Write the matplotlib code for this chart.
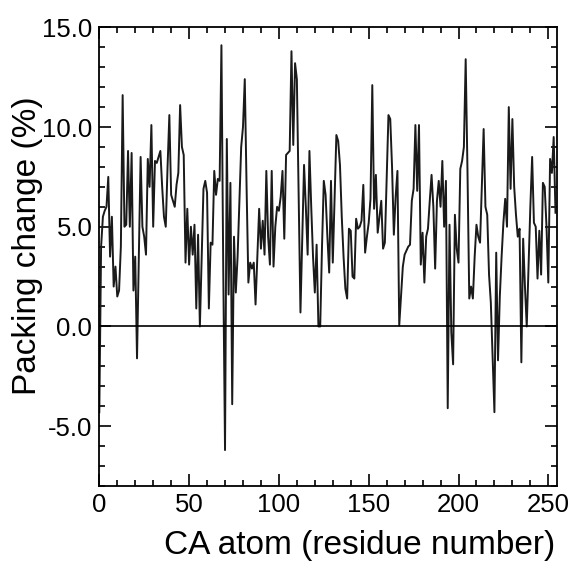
import matplotlib
matplotlib.use("Agg")
import matplotlib.pyplot as plt
from matplotlib.ticker import MultipleLocator, FuncFormatter

plt.rcParams['font.family'] = ['Liberation Sans', 'DejaVu Sans']

residues = list(range(0, 255))
packing_change = [
    -4.3, 4.0, 5.5, 5.8, 6.0, 7.5, 3.5, 5.5, 2.0, 3.0,
    1.5, 1.8, 4.0, 11.6, 5.0, 5.1, 8.8, 5.0, 8.7, 1.8,
    3.5, -1.6, 3.5, 8.5, 5.0, 4.5, 3.6, 8.4, 7.0, 10.1,
    5.0, 8.3, 8.2, 8.5, 8.8, 7.0, 5.5, 5.0, 8.0, 10.6,
    6.6, 6.3, 6.0, 7.1, 7.7, 11.1, 9.0, 8.6, 3.2, 5.9,
    3.1, 5.0, 3.6, 5.1, 0.9, 4.6, 0.0, 3.5, 6.9, 7.3,
    6.7, 0.9, 4.2, 4.1, 7.8, 6.6, 7.4, 7.3, 14.1, 3.0,
    -6.2, 9.4, 1.6, 7.2, -3.9, 4.5, 1.7, 3.5, 6.3, 9.0,
    10.0, 12.4, 7.0, 2.2, 3.2, 2.9, 3.2, 1.1, 3.5, 5.9,
    3.9, 5.3, 3.6, 7.8, 4.5, 3.1, 7.8, 3.0, 5.0, 6.0,
    5.8, 6.5, 7.8, 4.4, 8.6, 8.7, 8.8, 13.8, 9.1, 13.2,
    12.4, 6.5, 0.7, 4.5, 8.1, 6.0, 3.6, 8.8, 6.0, 3.5,
    1.7, 4.1, 0.0, 0.0, 4.0, 7.3, 6.6, 4.5, 2.7, 7.3,
    3.2, 6.5, 9.6, 9.3, 8.1, 5.5, 3.5, 1.9, 1.4, 4.9,
    4.8, 2.5, 2.4, 5.4, 4.9, 5.0, 5.3, 7.1, 3.7, 4.5,
    5.2, 6.4, 12.1, 5.9, 7.6, 4.7, 5.5, 6.3, 3.9, 4.2,
    7.5, 10.6, 10.4, 8.0, 4.6, 6.5, 7.8, 0.05, 1.5, 3.0,
    3.6, 3.8, 4.0, 4.1, 6.3, 6.9, 10.1, 6.8, 10.1, 3.1,
    4.7, 2.2, 4.5, 4.9, 6.3, 7.6, 6.0, 2.9, 6.3, 7.3,
    6.0, 8.3, 5.0, 7.3, -4.1, 5.1, -0.3, -1.9, 5.6, 3.9,
    3.2, 7.9, 8.3, 9.0, 13.4, 7.8, 1.4, 2.0, 1.4, 3.5,
    5.1, 4.5, 4.2, 7.0, 9.9, 6.0, 5.6, 2.6, 1.2, -1.5,
    -4.3, 3.7, -1.7, 1.5, 3.5, 5.2, 6.4, 5.0, 11.0, 6.9,
    10.4, 7.0, 5.6, 4.5, 4.9, -1.8, 4.4, 2.0, 0.0, 3.0,
    6.0, 8.5, 5.2, 5.0, 2.4, 4.8, 2.6, 7.2, 7.0, 5.0,
    2.2, 8.4, 7.7, 9.5, 5.7,
]

x_ticks = [0, 50, 100, 150, 200, 250]
y_ticks = [-5.0, 0.0, 5.0, 10.0, 15.0]

fig = plt.figure(figsize=(5.76, 5.63), dpi=100)
ax = fig.add_axes([0.1724, 0.1368, 0.7951, 0.8147])

ax.plot(residues, packing_change, color='#1a1a1a', linewidth=1.4)
ax.axhline(0.0, color='black', linewidth=1.2)

ax.set_xlim(0, 255)
ax.set_ylim(-8, 15)
ax.set_xticks(x_ticks)
ax.set_yticks(y_ticks)
ax.xaxis.set_minor_locator(MultipleLocator(10))
ax.yaxis.set_minor_locator(MultipleLocator(1))
ax.yaxis.set_major_formatter(FuncFormatter(lambda v, p: f"{v:.1f}".replace('\u2212', '-')))

ax.tick_params(which='both', direction='in', top=True, right=True, width=1.2)
ax.tick_params(which='major', length=8.5, labelsize=18.5, pad=5)
ax.tick_params(which='minor', length=4.5)
for s in ax.spines.values():
    s.set_linewidth(1.3)

ax.set_xlabel('CA atom (residue number)', fontsize=24)
ax.set_ylabel('Packing change (%)', fontsize=24)
ax.xaxis.set_label_coords(0.569, -0.095)
ax.xaxis.label.set_va('top')
ax.yaxis.set_label_coords(-0.123, 0.523)

fig.savefig('out.png', dpi=100)
